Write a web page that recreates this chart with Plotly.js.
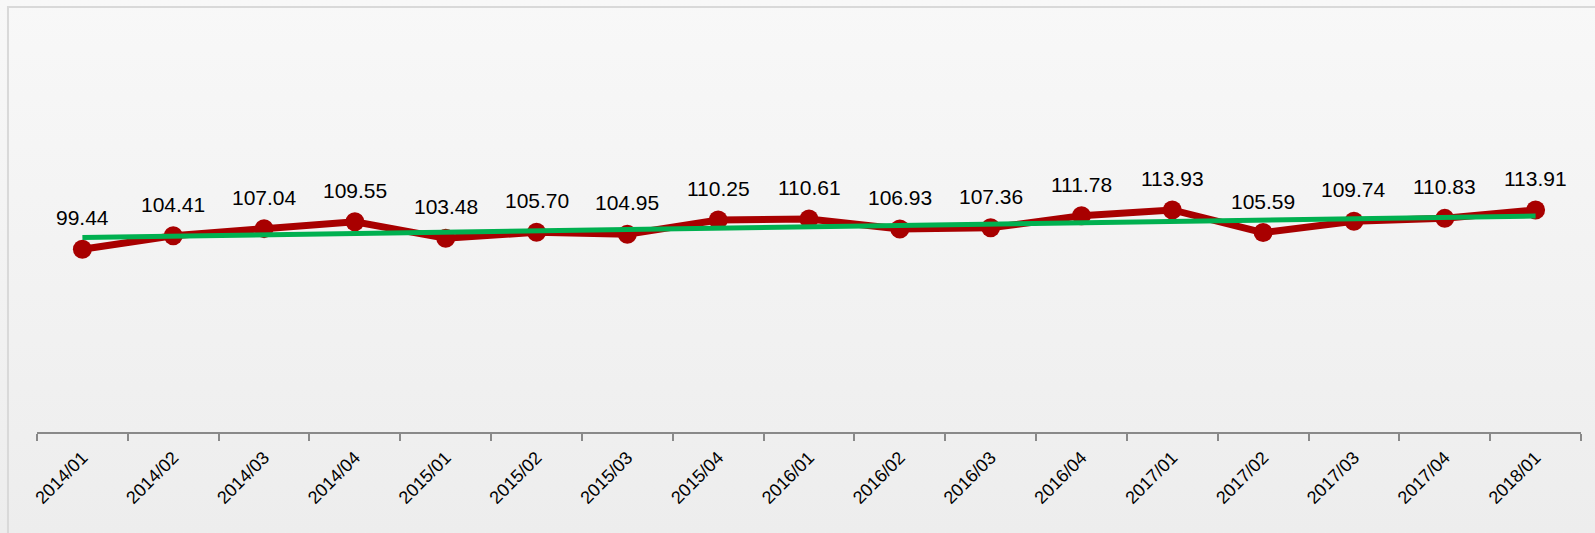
<!DOCTYPE html>
<html>
<head>
<meta charset="utf-8">
<script src="https://cdn.plot.ly/plotly-3.0.1.min.js"></script>
<style>
  html, body { margin: 0; padding: 0; }
  #chart { width: 1595px; height: 533px; background: linear-gradient(#f8f8f8, #ededed); }
</style>
</head>
<body>
<div id="chart"></div>
<script>
const categories = ["2014/01","2014/02","2014/03","2014/04","2015/01","2015/02","2015/03","2015/04",
  "2016/01","2016/02","2016/03","2016/04","2017/01","2017/02","2017/03","2017/04","2018/01"];
const values = [99.44,104.41,107.04,109.55,103.48,105.70,104.95,110.25,110.61,106.93,107.36,111.78,113.93,105.59,109.74,110.83,113.91];
const trendX = [categories[0], categories[categories.length - 1]];
const trendValues = [103.8, 111.7];

const lineTrace = {
  x: categories, y: values, type: 'scatter', mode: 'lines+markers',
  line: { color: '#a80000', width: 7 },
  marker: { color: '#a80000', size: 19 },
  hoverinfo: 'skip'
};
const trendTrace = {
  x: trendX, y: trendValues, type: 'scatter', mode: 'lines',
  line: { color: '#00b050', width: 5 },
  hoverinfo: 'skip'
};

const annotations = categories.map((c, i) => ({
  x: c, y: values[i], text: values[i].toFixed(2),
  showarrow: false, yanchor: 'bottom', yshift: 18,
  font: { family: 'Liberation Sans, Arial, sans-serif', size: 21, color: '#000' }
}));

const layout = {
  width: 1595, height: 533,
  margin: { l: 37, r: 14, t: 20, b: 101 },
  paper_bgcolor: 'rgba(0,0,0,0)',
  plot_bgcolor: 'rgba(0,0,0,0)',
  showlegend: false,
  hovermode: false,
  font: { family: 'Liberation Sans, Arial, sans-serif', color: '#000' },
  xaxis: {
    type: 'category',
    range: [-0.5, 16.5],
    tickson: 'boundaries',
    ticks: 'outside', ticklen: 7, tickwidth: 2, tickcolor: '#898989',
    showline: true, linecolor: '#898989', linewidth: 2,
    showgrid: false, zeroline: false,
    tickangle: -45,
    ticklabelstandoff: 6,
    tickfont: { family: 'Liberation Sans, Arial, sans-serif', size: 18, color: '#000' },
    fixedrange: true
  },
  yaxis: {
    range: [32.17, 183.86],
    visible: false, showgrid: false, zeroline: false, fixedrange: true
  },
  shapes: [{
    type: 'rect', xref: 'paper', yref: 'paper', layer: 'below',
    x0: -0.0188, x1: 1.2, y0: -0.5, y1: 1.0316,
    line: { color: '#d9d9d9', width: 2 }, fillcolor: 'rgba(0,0,0,0)'
  }],
  annotations: annotations
};

Plotly.newPlot('chart', [lineTrace, trendTrace], layout, { displayModeBar: false, staticPlot: true });
</script>
</body>
</html>
